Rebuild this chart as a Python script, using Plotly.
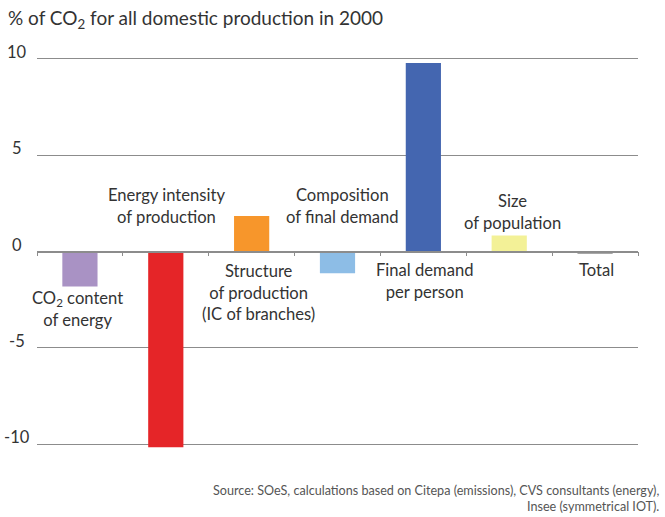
import plotly.graph_objects as go

categories = ["CO2 content of energy", "Energy intensity of production",
              "Structure of production (IC of branches)", "Composition of final demand",
              "Final demand per person", "Size of population", "Total"]
values = [-1.81, -10.15, 1.84, -1.13, 9.78, 0.83, -0.12]
colors = ["#A992C4", "#E52528", "#F7962B", "#8DBDE6", "#4466B0", "#F3F197", "#8A8A8A"]
label_texts = ["CO<sub>2</sub> content<br>of energy", "Energy intensity<br>of production",
               "Structure<br>of production<br>(IC of branches)", "Composition<br>of final demand",
               "Final demand<br>per person", "Size<br>of population", "Total"]
ytick_vals = [10, 5, 0, -5, -10]
ytick_text = ["10", "5", "0", "-5", "-10"]

# label layout (data-unit y centre, pixel x shift)
label_y = [-3.0, 2.35, -2.1, 2.35, -1.54, 2.07, -0.97]
label_xshift = [-2, 1, 7, 5, 2, 3, 1]

FONT = "Lato"
TXT = "#333333"
GRID = "#8c8c8c"

fig = go.Figure()
fig.add_trace(go.Bar(x=list(range(len(categories))), y=values, marker_color=colors,
                     marker_line_width=0, width=0.41, hoverinfo="skip"))

ann = []
for i, t in enumerate(label_texts):
    ann.append(dict(x=i, y=label_y[i], xref="x", yref="y", text=t, showarrow=False,
                    xanchor="center", yanchor="middle", xshift=label_xshift[i],
                    font=dict(family=FONT, size=16.6, color=TXT)))
for v, t in zip(ytick_vals, ytick_text):
    ann.append(dict(x=(16.5 - 37) / 601, y=v, xref="paper", yref="y", text=t, showarrow=False,
                    xanchor="center", yanchor="middle", yshift=7,
                    font=dict(family=FONT, size=16.5, color=TXT)))
ann.append(dict(x=(661 - 37) / 601, y=-0.109, xref="paper", yref="paper",
                text="Source: SOeS, calculations based on Citepa (emissions), CVS consultants (energy),<br>Insee (symmetrical IOT).",
                showarrow=False, xanchor="right", yanchor="middle", align="right",
                font=dict(family=FONT, size=12.6, color="#555555")))

fig.update_layout(
    width=665, height=517,
    margin=dict(l=37, r=27, t=49, b=63.4, autoexpand=False),
    paper_bgcolor="white", plot_bgcolor="white",
    showlegend=False,
    title=dict(text="% of CO<sub>2</sub> for all domestic production in 2000",
               x=8 / 665, xanchor="left", xref="container",
               y=1 - 18 / 517, yanchor="middle", yref="container",
               font=dict(family=FONT, size=19, color=TXT)),
    xaxis=dict(type="linear", range=[-0.5, 6.5], anchor="free", position=0.5,
               showline=True, linecolor=GRID, linewidth=1.5, automargin=False,
               tickvals=[i - 0.5 for i in range(len(categories) + 1)],
               ticks="outside", ticklen=4, tickcolor=GRID, tickwidth=1,
               showticklabels=False, showgrid=False, zeroline=False),
    yaxis=dict(range=[-10.5, 10.5], tickvals=ytick_vals, showticklabels=False,
               showgrid=True, gridcolor=GRID, gridwidth=1.3, zeroline=False,
               showline=False, ticks="", automargin=False),
    annotations=ann,
)
fig.write_html("out.html", config={"displayModeBar": False},
               post_script="document.body.style.margin='0';document.body.style.overflow='hidden';")
